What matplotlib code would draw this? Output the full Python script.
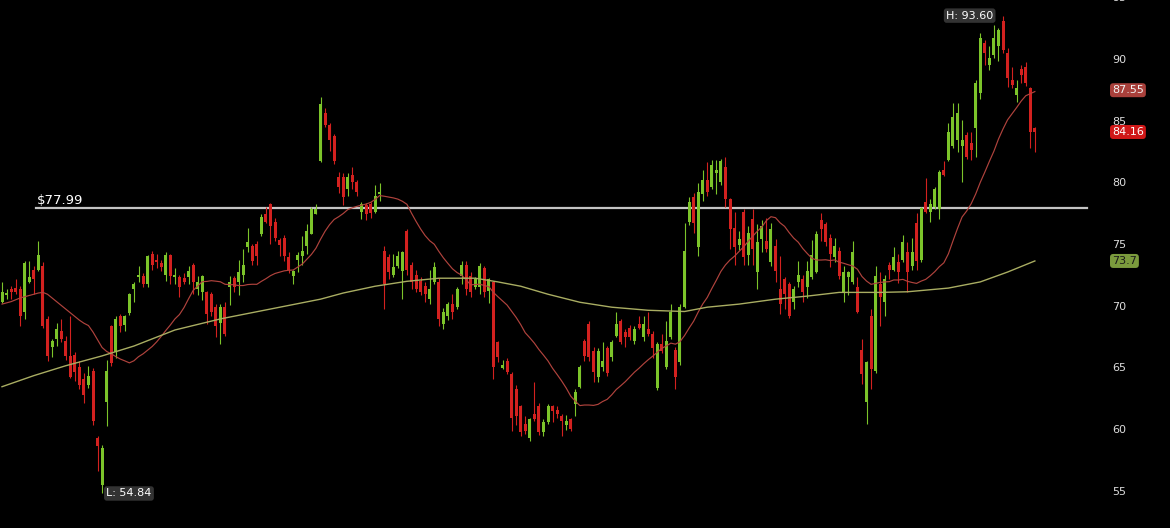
import numpy as np
import pandas as pd
import matplotlib
matplotlib.use("Agg")
import matplotlib.pyplot as plt

# daily OHLC (228 sessions)
opens = [70.4, 70.9, 71.4, 71.5, 71.4, 69.6, 72.0, 73.0, 73.0, 73.3,
         69.0, 66.7, 67.4, 68.0, 67.2, 66.0, 66.1, 65.1, 64.1, 63.6,
         64.8, 59.3, 55.5, 62.3, 68.4, 66.3, 69.2, 68.5, 69.5, 71.4,
         72.4, 72.5, 71.8, 74.3, 73.8, 73.5, 72.6, 74.2, 72.4, 72.4,
         72.3, 72.4, 73.4, 71.4, 71.2, 71.2, 71.0, 70.0, 68.7, 70.0,
         71.6, 72.3, 72.0, 72.6, 74.8, 74.9, 75.1, 75.9, 77.5, 78.3,
         76.9, 75.4, 75.6, 74.0, 72.5, 73.8, 74.1, 74.9, 75.9, 77.5,
         81.8, 85.7, 84.7, 83.8, 80.5, 80.5, 79.5, 80.7, 80.1, 77.7,
         78.2, 78.3, 77.7, 79.1, 74.5, 74.0, 72.6, 73.3, 72.9, 76.1,
         73.4, 72.6, 72.1, 71.7, 70.6, 72.0, 72.0, 68.6, 69.2, 70.2,
         70.0, 72.5, 73.4, 72.5, 71.6, 71.6, 73.1, 71.3, 72.0, 67.1,
         65.0, 65.6, 64.5, 63.3, 61.9, 60.5, 59.3, 61.3, 61.9, 59.8,
         60.6, 61.9, 61.6, 61.1, 60.4, 60.9, 62.1, 63.5, 67.2, 68.6,
         66.4, 64.3, 65.1, 66.6, 65.9, 67.6, 68.8, 67.9, 68.3, 67.2,
         68.6, 67.5, 68.2, 67.8, 63.4, 67.0, 65.1, 67.5, 66.5, 65.5,
         70.0, 76.9, 78.9, 74.8, 79.1, 80.3, 79.7, 80.8, 80.1, 81.3,
         78.7, 76.4, 75.0, 77.7, 74.2, 77.1, 72.8, 75.5, 75.3, 73.6,
         74.9, 71.4, 72.2, 71.8, 70.4, 72.0, 72.2, 71.6, 72.4, 72.8,
         77.0, 76.7, 75.6, 74.0, 74.5, 71.2, 72.4, 72.0, 71.6, 66.5,
         62.3, 69.2, 64.8, 71.8, 70.4, 73.4, 73.0, 73.6, 73.8, 74.4,
         73.3, 76.8, 73.8, 78.5, 77.7, 78.1, 77.9, 81.1, 81.9, 83.0,
         83.5, 83.0, 83.9, 83.3, 84.5, 87.3, 91.4, 89.6, 90.4, 91.1,
         93.2, 90.6, 88.4, 87.2, 89.3, 89.4, 87.7, 84.5]
highs = [72.0, 71.4, 71.7, 72.2, 71.7, 73.7, 73.7, 73.3, 75.3, 73.6,
         69.2, 67.4, 68.7, 69.0, 67.6, 69.2, 66.3, 65.6, 64.6, 65.2,
         65.0, 59.5, 58.8, 65.7, 68.5, 69.2, 69.4, 69.3, 71.1, 72.0,
         73.3, 72.7, 74.2, 74.5, 74.3, 73.8, 74.4, 74.3, 73.1, 72.6,
         72.7, 73.3, 73.5, 72.5, 72.6, 71.3, 71.2, 70.2, 70.2, 70.4,
         72.5, 72.5, 73.8, 74.7, 76.4, 75.1, 75.3, 77.5, 78.1, 78.4,
         77.2, 75.6, 75.8, 74.4, 73.0, 74.4, 75.7, 76.7, 78.1, 78.3,
         87.0, 86.1, 84.9, 84.0, 80.9, 80.8, 80.8, 81.3, 80.3, 78.5,
         78.4, 78.5, 79.9, 80.0, 74.9, 74.3, 74.3, 74.5, 74.5, 76.3,
         73.6, 73.0, 72.4, 72.0, 73.0, 73.6, 72.3, 69.9, 70.4, 71.0,
         71.6, 73.7, 73.7, 72.8, 72.4, 73.5, 73.3, 72.3, 72.1, 67.2,
         65.7, 65.8, 64.7, 63.6, 62.0, 61.1, 61.0, 63.9, 62.2, 60.9,
         62.1, 62.0, 61.9, 61.3, 61.2, 61.0, 63.3, 65.3, 67.4, 68.8,
         66.7, 66.6, 67.1, 66.8, 67.3, 69.6, 69.0, 68.2, 68.5, 68.4,
         69.2, 69.2, 69.6, 68.0, 67.1, 67.8, 68.8, 70.2, 66.7, 70.2,
         76.8, 78.9, 79.2, 80.0, 81.1, 81.7, 81.9, 81.9, 82.0, 82.1,
         78.8, 77.7, 76.1, 77.9, 76.5, 77.9, 76.7, 77.0, 77.2, 76.8,
         75.5, 74.1, 72.4, 72.0, 71.7, 73.7, 72.6, 73.7, 75.4, 76.1,
         77.6, 76.9, 75.9, 75.6, 74.8, 73.3, 72.9, 75.3, 72.4, 67.4,
         65.6, 69.8, 73.3, 72.8, 72.6, 73.6, 74.8, 74.3, 75.8, 75.2,
         75.6, 77.6, 78.1, 80.4, 78.7, 79.7, 81.1, 81.8, 84.9, 86.5,
         86.5, 85.1, 84.2, 84.2, 88.4, 92.2, 91.6, 91.1, 92.8, 92.6,
         93.6, 91.0, 89.4, 88.4, 89.6, 89.8, 87.8, 84.6]
lows = [70.3, 70.6, 70.6, 71.0, 68.4, 69.0, 71.9, 71.0, 72.9, 68.3,
        65.6, 65.9, 66.8, 67.1, 65.7, 64.2, 64.0, 63.3, 62.2, 63.4,
        60.4, 56.7, 54.84, 60.3, 65.2, 65.8, 67.9, 68.0, 69.3, 70.4,
        72.0, 71.6, 71.6, 73.0, 73.1, 72.9, 72.1, 71.8, 71.8, 70.8,
        71.8, 71.8, 71.0, 70.9, 70.5, 68.6, 69.2, 67.5, 67.0, 67.6,
        70.1, 71.2, 70.9, 72.0, 74.4, 73.4, 73.4, 75.7, 76.8, 75.1,
        75.3, 74.1, 73.7, 72.7, 71.8, 72.8, 73.4, 74.3, 75.9, 77.5,
        81.7, 84.6, 82.6, 81.6, 79.2, 78.2, 79.0, 79.5, 79.0, 77.1,
        77.0, 77.2, 77.6, 78.6, 69.8, 72.2, 72.4, 73.1, 70.6, 72.6,
        71.4, 71.2, 70.9, 70.4, 70.2, 71.8, 68.4, 68.2, 68.9, 69.0,
        69.8, 71.8, 70.9, 70.8, 71.4, 71.0, 70.8, 70.3, 64.1, 65.5,
        64.9, 64.5, 59.9, 60.4, 59.5, 59.7, 59.1, 60.7, 59.6, 59.5,
        60.5, 60.6, 61.0, 59.5, 60.0, 59.9, 61.1, 63.4, 65.6, 65.6,
        63.9, 63.9, 64.8, 64.4, 65.6, 67.5, 67.0, 66.7, 67.3, 67.0,
        68.2, 67.2, 67.6, 65.8, 63.2, 66.2, 64.9, 67.4, 63.3, 65.3,
        69.9, 76.6, 76.0, 74.1, 78.6, 79.0, 79.5, 79.1, 79.9, 78.1,
        74.7, 73.4, 74.6, 73.4, 73.4, 73.4, 71.4, 74.4, 74.4, 73.3,
        72.0, 69.4, 69.8, 69.1, 69.8, 71.6, 70.4, 70.7, 72.2, 72.7,
        75.3, 74.9, 73.2, 73.6, 72.2, 70.4, 70.9, 71.8, 69.5, 63.7,
        60.5, 63.3, 64.6, 68.4, 69.2, 72.2, 72.9, 71.9, 73.6, 71.2,
        73.0, 73.0, 73.6, 77.6, 76.9, 77.9, 77.1, 80.6, 81.8, 82.9,
        82.5, 80.1, 82.0, 81.9, 82.1, 86.8, 89.6, 89.2, 90.2, 89.9,
        90.6, 87.8, 87.7, 86.6, 88.1, 87.9, 82.9, 82.5]
closes = [71.2, 71.1, 71.2, 71.2, 69.2, 73.5, 72.4, 72.2, 74.2, 68.4,
          66.0, 67.2, 68.2, 67.4, 66.0, 64.3, 64.7, 63.6, 62.8, 64.4,
          60.7, 58.7, 58.5, 64.8, 65.4, 69.0, 68.4, 69.2, 71.0, 71.8,
          72.6, 71.8, 74.1, 73.4, 73.6, 73.2, 74.2, 72.5, 72.6, 71.6,
          72.0, 72.9, 72.0, 72.0, 72.5, 69.4, 69.6, 68.4, 70.0, 67.8,
          72.0, 71.6, 72.8, 73.4, 75.2, 73.7, 74.1, 77.3, 76.9, 76.5,
          75.6, 75.0, 74.1, 73.0, 72.9, 74.2, 74.5, 76.1, 77.9, 77.9,
          86.4, 84.7, 83.5, 81.8, 79.7, 78.9, 80.5, 80.1, 79.3, 78.3,
          77.5, 77.6, 79.0, 79.3, 71.8, 72.8, 73.2, 74.1, 74.4, 73.0,
          72.0, 71.4, 71.2, 71.0, 71.4, 73.2, 69.0, 69.6, 70.2, 69.6,
          71.4, 73.4, 71.4, 71.2, 72.2, 73.3, 71.2, 72.2, 65.1, 65.9,
          65.3, 64.7, 61.0, 61.1, 59.8, 59.9, 60.9, 60.9, 59.8, 60.6,
          61.9, 61.5, 61.3, 60.7, 60.7, 60.1, 63.1, 65.1, 66.0, 65.9,
          64.7, 66.4, 65.6, 64.6, 67.1, 68.6, 67.1, 67.5, 67.5, 68.2,
          68.3, 68.6, 67.8, 66.6, 67.0, 66.4, 67.2, 69.6, 64.3, 70.0,
          74.5, 78.5, 76.8, 79.3, 80.3, 79.3, 81.5, 81.1, 81.8, 78.7,
          76.3, 74.8, 75.5, 74.0, 76.0, 74.7, 75.2, 76.5, 74.7, 76.3,
          72.9, 70.2, 71.0, 69.2, 71.4, 72.6, 71.2, 72.9, 74.2, 75.9,
          76.3, 75.2, 74.3, 74.9, 72.5, 72.8, 72.8, 74.4, 69.6, 64.5,
          65.5, 64.9, 72.5, 70.8, 72.2, 73.0, 74.0, 72.8, 75.2, 72.8,
          74.4, 73.7, 78.0, 77.7, 78.3, 79.5, 80.9, 80.7, 84.2, 85.4,
          85.7, 83.5, 82.1, 82.7, 88.1, 91.8, 90.6, 90.2, 91.8, 92.4,
          90.8, 88.5, 88.0, 87.7, 88.8, 88.1, 84.2, 84.16]

# 20-day average before the window has enough sessions
ma20_head = [70.2, 70.3, 70.4, 70.55, 70.7, 70.8, 70.9, 71.0, 71.1, 71.15,
             71.0, 70.7, 70.4, 70.1, 69.8, 69.5, 69.2, 68.9, 68.65]
ma20_last = 87.55  # value printed on the scale

# 200-day average, read at a few sessions
ma200_idx = [0, 7, 14, 22, 29, 38, 48, 59, 70, 75, 82, 89, 96, 104, 109, 114,
             120, 127, 134, 142, 150, 155, 162, 170, 177, 184, 193, 199, 208,
             215, 221, 227]
ma200_val = [63.5, 64.4, 65.2, 66.0, 66.8, 68.1, 69.0, 69.8, 70.6, 71.1, 71.65,
             72.05, 72.3, 72.3, 72.0, 71.65, 71.0, 70.35, 69.95, 69.7, 69.6,
             69.95, 70.2, 70.6, 70.85, 71.15, 71.15, 71.2, 71.5, 72.0, 72.8,
             73.7]

level = 77.99
y_ticks = [55, 60, 65, 70, 75, 80, 85, 90, 95]

GREEN = "#7cc42a"
RED = "#d3211f"
BG = "black"

o = np.array(opens)
h = np.array(highs)
l = np.array(lows)
c = np.array(closes)
x = np.arange(len(c))
up = c >= o
cols = np.where(up, GREEN, RED)

ma20 = pd.Series(c).rolling(20).mean().to_numpy()
ma20[:19] = ma20_head

fig = plt.figure(figsize=(11.7, 5.28), dpi=100, facecolor=BG)
ax = fig.add_axes([0, 0, 1, 1])
ax.set_facecolor(BG)
ax.set_xlim(-0.44, 256.7)
ax.set_ylim(52.04, 94.866)
ax.set_axis_off()

# candles
ax.vlines(x, l, h, colors=cols, linewidth=0.8, zorder=2)
body = np.maximum(np.abs(c - o), 0.12)
ax.bar(x, body, bottom=np.minimum(o, c), width=0.66, color=cols,
       linewidth=0, zorder=3)

# moving averages
ax.plot(x, ma20, color="#b0433d", linewidth=0.85, zorder=4)
ax.plot(ma200_idx, ma200_val, color="#a9ad62", linewidth=1.0, zorder=4)

# horizontal level
ax.axhline(level, xmin=36 / 1170, xmax=1087 / 1170, color="#c4c4c4",
           linewidth=1.6, zorder=1)
ytr = ax.get_yaxis_transform()
ax.text(37 / 1170, level + 0.12, f"${level:.2f}", transform=ytr,
        color="white", fontsize=9.5, va="bottom", ha="left")

# right price scale (top label is cut by the edge, as on the source)
for t in y_ticks:
    ax.text(1112 / 1170, t, str(t), transform=ytr, color="#dddddd",
            fontsize=8, va="center", ha="left", clip_on=False)


def tag(y, text, face, tc):
    ax.text(1112 / 1170, y, text, transform=ytr, color=tc, fontsize=8,
            va="center", ha="left", zorder=6,
            bbox=dict(boxstyle="round,pad=0.18,rounding_size=0.3",
                      fc=face, ec="none"))


tag(ma20_last, f"{ma20_last:.2f}", "#a9403b", "#f2f2f2")
tag(c[-1], f"{c[-1]:.2f}", "#cf1717", "#ffffff")
tag(ma200_val[-1], f"{ma200_val[-1]:.1f}", "#7b9b3d", "#1a1a1a")

# high / low markers
hi = int(np.argmax(h))
lo = int(np.argmin(l))
ax.annotate(f"H: {h[hi]:.2f}", (hi, h[hi]), xytext=(-7, 0),
            textcoords="offset points", ha="right", va="center",
            color="white", fontsize=8, zorder=6,
            bbox=dict(boxstyle="round,pad=0.2,rounding_size=0.25",
                      fc="#333333", ec="none"))
ax.annotate(f"L: {l[lo]:.2f}", (lo, l[lo]), xytext=(3, 0),
            textcoords="offset points", ha="left", va="center",
            color="white", fontsize=8, zorder=6,
            bbox=dict(boxstyle="round,pad=0.2,rounding_size=0.25",
                      fc="#333333", ec="none"))

fig.savefig("out.png", dpi=100, facecolor=BG)
